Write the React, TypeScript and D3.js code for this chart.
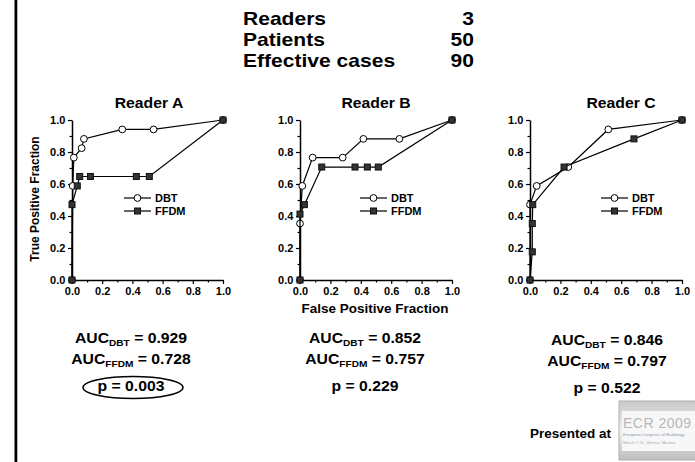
import React, { useEffect, useRef } from "react";
import * as d3 from "d3";

// ROC points per reader, [false positive fraction, true positive fraction]
const dbtA = [[0, 0], [0.005, 0.588], [0.012, 0.765], [0.064, 0.824], [0.079, 0.882], [0.333, 0.941], [0.54, 0.941], [1, 1]];
const ffdmA = [[0, 0], [0, 0.471], [0.035, 0.588], [0.051, 0.647], [0.122, 0.647], [0.426, 0.647], [0.512, 0.647], [1, 1]];
const dbtB = [[0, 0], [0, 0.353], [0.015, 0.588], [0.083, 0.765], [0.281, 0.765], [0.417, 0.882], [0.654, 0.882], [1, 1]];
const ffdmB = [[0, 0], [0, 0.412], [0.029, 0.471], [0.143, 0.706], [0.362, 0.706], [0.443, 0.706], [0.515, 0.706], [1, 1]];
const dbtC = [[0, 0], [0, 0.471], [0.044, 0.588], [0.252, 0.706], [0.515, 0.941], [1, 1]];
const ffdmC = [[0, 0], [0.015, 0.176], [0.015, 0.353], [0.018, 0.471], [0.224, 0.706], [0.684, 0.882], [1, 1]];

const readerNames = ["Reader A", "Reader B", "Reader C"];
const aucDbt = ["0.929", "0.852", "0.846"];
const aucFfdm = ["0.728", "0.757", "0.797"];
const pValues = ["0.003", "0.229", "0.522"];

const headerLabels = ["Readers", "Patients", "Effective cases"];
const headerValues = ["3", "50", "90"];

const majorTicks = [0, 0.2, 0.4, 0.6, 0.8, 1];
const minorTicks = [0.1, 0.3, 0.5, 0.7, 0.9];

const FONT = "'Liberation Sans', Arial, Helvetica, sans-serif";
const W = 695;
const H = 462;
const SX = 1.125; // the slide is a bit stretched sideways

// panel geometry
const panelLeft = [72, 300, 530];
const panelWidth = [151, 152, 152];
const plotTop = 120;
const plotBottom = 280;
const titleX = [149, 376, 621];
const legendX = [124, 360, 601];
const aucX = [131, 365, 607];
const aucShift = [0, 0, 2];

const App = () => {
    const svgRef = useRef(null);

    const addText = (g, x, y, str, size, anchor = "middle", sx = SX) => {
        return g
            .append("text")
            .attr("transform", `translate(${x},${y}) scale(${sx},1)`)
            .attr("text-anchor", anchor)
            .attr("font-family", FONT)
            .attr("font-weight", "bold")
            .attr("font-size", size)
            .attr("fill", "#000")
            .text(str);
    };

    const addAuc = (g, x, y, sub, value) => {
        const t = g
            .append("text")
            .attr("transform", `translate(${x},${y}) scale(${SX},1)`)
            .attr("text-anchor", "middle")
            .attr("font-family", FONT)
            .attr("font-weight", "bold")
            .attr("font-size", 14);
        t.append("tspan").text("AUC");
        t.append("tspan").attr("font-size", 9).attr("dy", 3).text(sub);
        t.append("tspan").attr("dy", -3).text(` = ${value}`);
    };

    const drawPanel = (svg, i, dbt, ffdm) => {
        const g = svg.append("g");
        const x = d3.scaleLinear().domain([0, 1]).range([panelLeft[i], panelLeft[i] + panelWidth[i]]);
        const y = d3.scaleLinear().domain([0, 1]).range([plotBottom, plotTop]);

        // minor ticks
        g.append("g")
            .attr("transform", `translate(0,${plotBottom})`)
            .call(d3.axisBottom(x).tickValues(minorTicks).tickSize(2.5).tickSizeOuter(0).tickFormat(() => ""))
            .call((a) => a.select(".domain").remove());
        g.append("g")
            .attr("transform", `translate(${panelLeft[i]},0)`)
            .call(d3.axisLeft(y).tickValues(minorTicks).tickSize(2.5).tickSizeOuter(0).tickFormat(() => ""))
            .call((a) => a.select(".domain").remove());

        // major ticks with labels
        const xAxis = g
            .append("g")
            .attr("transform", `translate(0,${plotBottom})`)
            .call(d3.axisBottom(x).tickValues(majorTicks).tickSize(4).tickSizeOuter(0).tickPadding(4).tickFormat(d3.format(".1f")));
        const yAxis = g
            .append("g")
            .attr("transform", `translate(${panelLeft[i]},0)`)
            .call(d3.axisLeft(y).tickValues(majorTicks).tickSize(4).tickSizeOuter(0).tickPadding(2).tickFormat(d3.format(".1f")));

        [xAxis, yAxis].forEach((a) => {
            a.attr("font-family", FONT).attr("font-size", 10).attr("font-weight", "bold");
            a.selectAll("text").attr("fill", "#000").attr("transform", "scale(1.1,1)");
        });
        g.selectAll(".domain").attr("stroke", "#000").attr("stroke-width", 1.5);
        g.selectAll(".tick line").attr("stroke", "#000").attr("stroke-width", 1.2);

        const line = d3
            .line()
            .x((d) => x(d[0]))
            .y((d) => y(d[1]));

        const drawSeries = (pts, isSquare) => {
            g.append("path")
                .attr("d", line(pts))
                .attr("fill", "none")
                .attr("stroke", "#000")
                .attr("stroke-width", 1.2);
            if (isSquare) {
                g.selectAll(null)
                    .data(pts)
                    .enter()
                    .append("rect")
                    .attr("x", (d) => x(d[0]) - 3)
                    .attr("y", (d) => y(d[1]) - 3)
                    .attr("width", 6)
                    .attr("height", 6)
                    .attr("fill", "#333")
                    .attr("stroke", "#111")
                    .attr("stroke-width", 1);
            } else {
                g.selectAll(null)
                    .data(pts)
                    .enter()
                    .append("circle")
                    .attr("cx", (d) => x(d[0]))
                    .attr("cy", (d) => y(d[1]))
                    .attr("r", 3.4)
                    .attr("fill", "#fff")
                    .attr("stroke", "#000")
                    .attr("stroke-width", 1);
            }
        };
        drawSeries(dbt, false);
        drawSeries(ffdm, true);

        // legend
        const lx = legendX[i];
        [["DBT", false, 198], ["FFDM", true, 211]].forEach(([label, isSquare, ly]) => {
            g.append("line")
                .attr("x1", lx)
                .attr("x2", lx + 27)
                .attr("y1", ly)
                .attr("y2", ly)
                .attr("stroke", "#000")
                .attr("stroke-width", 1.2);
            if (isSquare) {
                g.append("rect")
                    .attr("x", lx + 10.5)
                    .attr("y", ly - 3)
                    .attr("width", 6)
                    .attr("height", 6)
                    .attr("fill", "#333")
                    .attr("stroke", "#111");
            } else {
                g.append("circle")
                    .attr("cx", lx + 13.5)
                    .attr("cy", ly)
                    .attr("r", 3.4)
                    .attr("fill", "#fff")
                    .attr("stroke", "#000");
            }
            addText(g, lx + 31, ly + 3.5, label, 10, "start", 1.1);
        });

        addText(g, titleX[i], 108, readerNames[i], 14);

        const s = aucShift[i];
        addAuc(g, aucX[i], 343 + s, "DBT", aucDbt[i]);
        addAuc(g, aucX[i], 364 + s, "FFDM", aucFfdm[i]);
        addText(g, aucX[i], 391 + s, `p = ${pValues[i]}`, 14);
    };

    const drawChart = () => {
        const svg = d3.select(svgRef.current);
        svg.selectAll("*").remove();

        svg.append("rect").attr("width", W).attr("height", H).attr("fill", "#fff");
        svg.append("rect").attr("x", 14.5).attr("y", 0).attr("width", 2.8).attr("height", H).attr("fill", "#000");

        // header block
        headerLabels.forEach((lab, k) => {
            addText(svg, 243, 25 + k * 21, lab, 18, "start", 1.17);
            addText(svg, 474, 25 + k * 21, headerValues[k], 18, "end", 1.17);
        });

        drawPanel(svg, 0, dbtA, ffdmA);
        drawPanel(svg, 1, dbtB, ffdmB);
        drawPanel(svg, 2, dbtC, ffdmC);

        // axis titles
        svg.append("text")
            .attr("transform", `translate(39,199) rotate(-90)`)
            .attr("text-anchor", "middle")
            .attr("font-family", FONT)
            .attr("font-weight", "bold")
            .attr("font-size", 12)
            .text("True Positive Fraction");
        addText(svg, 375, 313, "False Positive Fraction", 12);

        // circled p-value for reader A
        svg.append("ellipse")
            .attr("cx", 133)
            .attr("cy", 387.5)
            .attr("rx", 50)
            .attr("ry", 11)
            .attr("fill", "none")
            .attr("stroke", "#000")
            .attr("stroke-width", 1.5);

        addText(svg, 611, 438, "Presented at", 12, "end");

        // congress logo at the right edge
        const defs = svg.append("defs");
        const grad = defs.append("linearGradient").attr("id", "logoGrad").attr("x1", 0).attr("y1", 0).attr("x2", 0).attr("y2", 1);
        grad.append("stop").attr("offset", "0%").attr("stop-color", "#c8c8c8");
        grad.append("stop").attr("offset", "50%").attr("stop-color", "#f2f2f2");
        grad.append("stop").attr("offset", "100%").attr("stop-color", "#bdbdbd");
        svg.append("rect").attr("x", 619).attr("y", 401).attr("width", 80).attr("height", 59).attr("fill", "url(#logoGrad)").attr("stroke", "#b0b0b0");
        svg.append("rect").attr("x", 622).attr("y", 411).attr("width", 76).attr("height", 40).attr("fill", "#f7f7f7");
        svg.append("text")
            .attr("x", 623)
            .attr("y", 428)
            .attr("font-family", FONT)
            .attr("font-size", 14)
            .attr("letter-spacing", 0.5)
            .attr("fill", "#b8b8b8")
            .text("ECR 2009");
        svg.append("text")
            .attr("x", 623)
            .attr("y", 436)
            .attr("font-family", FONT)
            .attr("font-size", 4.2)
            .attr("fill", "#8a96a8")
            .text("European Congress of Radiology");
        svg.append("text")
            .attr("x", 623)
            .attr("y", 444)
            .attr("font-family", FONT)
            .attr("font-size", 4.2)
            .attr("fill", "#a8a8a8")
            .text("March 7-11, Vienna / Austria");
    };

    useEffect(() => {
        drawChart();
    });

    return (
        <div>
            <svg ref={svgRef} width={W} height={H} style={{ position: "absolute", left: 0, top: 0 }}></svg>
        </div>
    );
};

export default App;
